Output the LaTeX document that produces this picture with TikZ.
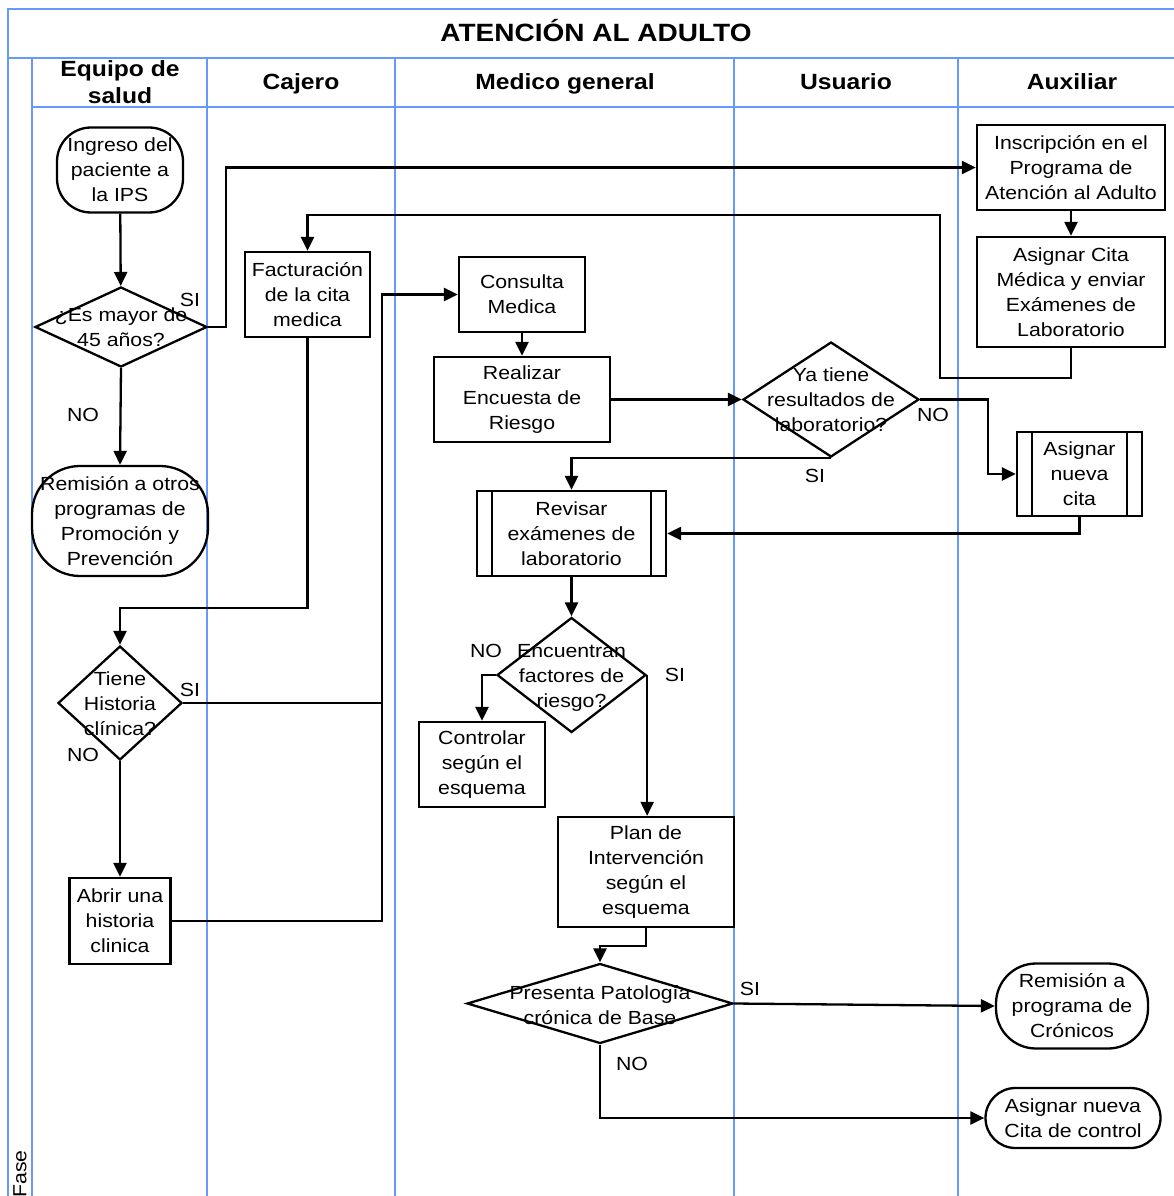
\documentclass[tikz,border=0pt]{standalone}
\usepackage{fontspec}
\setmainfont{Liberation Sans}[FakeStretch=1.12]
\usetikzlibrary{arrows.meta,shapes.geometric}
\definecolor{lanecol}{RGB}{102,153,255}
\newcommand\bodyfont{\fontsize{19}{25}\selectfont}
\newcommand\headfont{\fontsize{22}{27}\selectfont\bfseries}
\newcommand\titlefont{\fontsize{25}{30}\selectfont\bfseries}

\begin{document}
\begin{tikzpicture}[x=1pt,y=-1pt,
  laneline/.style={draw=lanecol, line width=2.8pt},
  proc/.style={draw, line width=2.3pt, rectangle, inner sep=0pt, align=center, font=\bodyfont},
  term/.style={proc, rounded corners=#1},
  term/.default=32pt,
  predef/.style={proc, path picture={
      \draw[line width=2.3pt]
        ([xshift=15pt]path picture bounding box.north west) -- ([xshift=15pt]path picture bounding box.south west)
        ([xshift=-15pt]path picture bounding box.north east) -- ([xshift=-15pt]path picture bounding box.south east);}},
  dia/.style={draw, line width=2.3pt, diamond, inner sep=0pt},
  txt/.style={align=center, font=\bodyfont, inner sep=0pt},
  lbl/.style={font=\bodyfont, inner sep=0pt},
  hdr/.style={align=center, font=\headfont, inner sep=0pt},
  link/.style={line width=2.3pt},
  arr/.style={line width=2.3pt, -{Triangle[length=14pt,width=13pt]}}
]
% page
\useasboundingbox (0,0) rectangle (1173,1196);
\fill[white] (0,0) rectangle (1173,1196);

% swimlane frame
\draw[laneline] (8,1200) -- (8,9) -- (1180,9);
\draw[laneline] (8,58) -- (1180,58);
\draw[laneline] (32,107) -- (1180,107);
\foreach \lx in {32,207,395,734,958}
  \draw[laneline] (\lx,58) -- (\lx,1200);

% titles
\node[font=\titlefont, inner sep=0pt, anchor=base] (title) at (596,42) {ATENCIÓN AL ADULTO};
\node[hdr] (h1) at (120,82) {Equipo de\\salud};
\node[hdr, anchor=base] (h2) at (301,90) {Cajero};
\node[hdr, anchor=base] (h3) at (565,90) {Medico general};
\node[hdr, anchor=base] (h4) at (846,90) {Usuario};
\node[hdr, anchor=base] (h5) at (1072,90) {Auxiliar};
\node[font=\bodyfont, rotate=90, anchor=west, inner sep=0pt] (fase) at (20,1198) {Fase};

% Equipo de salud
\node[term=34pt, minimum width=126pt, minimum height=85pt] (ing) at (120,170) {Ingreso del\\paciente a\\la IPS};
\node[dia, minimum width=172pt, minimum height=80pt] (d1) at (121,327) {};
\node[txt] (d1t) at (d1) {¿Es mayor de\\45 años?};
\node[term=48pt, minimum width=176pt, minimum height=110pt] (rem1) at (120,521) {Remisión a otros\\programas de\\Promoción y\\Prevención};
\node[dia, minimum width=124pt, minimum height=114pt] (d2) at (120,703) {};
\node[txt] (d2t) at ([yshift=-1pt]d2.center) {Tiene\\Historia\\clínica?};
\node[proc, minimum width=101pt, minimum height=86pt] (abr) at (120,921) {Abrir una\\historia\\clinica};

% Cajero
\node[proc, minimum width=125pt, minimum height=85pt] (fac) at (307.5,294.5) {Facturación\\de la cita\\medica};

% Medico general
\node[proc, minimum width=126pt, minimum height=75pt] (con) at (522,294.5) {Consulta\\Medica};
\node[proc, minimum width=176pt, minimum height=85pt] (enc) at (522,399.5) {Realizar\\Encuesta de\\Riesgo};
\node[predef, minimum width=189pt, minimum height=85pt] (rev) at (571.5,533.5) {Revisar\\exámenes de\\laboratorio};
\node[dia, minimum width=149pt, minimum height=115pt] (d4) at (571.5,675) {};
\node[txt] (d4t) at ([yshift=-3pt]d4.center) {Encuentran\\factores de\\riesgo?};
\node[proc, minimum width=126pt, minimum height=85pt] (ctl) at (482,764.5) {Controlar\\según el\\esquema};
\node[proc, minimum width=176pt, minimum height=110pt] (plan) at (646,872) {Plan de\\Intervención\\según el\\esquema};
\node[dia, minimum width=266pt, minimum height=80pt] (d5) at (600,1003.5) {};
\node[txt] (d5t) at ([yshift=-1.5pt]d5.center) {Presenta Patología\\crónica de Base};

% Usuario
\node[dia, minimum width=176pt, minimum height=115pt] (d3) at (831,399.5) {};
\node[txt] (d3t) at (d3) {Ya tiene\\resultados de\\laboratorio?};

% Auxiliar
\node[proc, minimum width=188pt, minimum height=85pt] (ins) at (1071,167.5) {Inscripción en el\\Programa de\\Atención al Adulto};
\node[proc, minimum width=188pt, minimum height=110pt] (cit) at (1071,292) {Asignar Cita\\Médica y enviar\\Exámenes de\\Laboratorio};
\node[predef, minimum width=125pt, minimum height=84pt] (nue) at (1079.5,474) {Asignar\\nueva\\cita};
\node[term=40pt, minimum width=152pt, minimum height=85pt] (cro) at (1072,1006) {Remisión a\\programa de\\Crónicos};
\node[term=30pt, minimum width=175pt, minimum height=60pt] (ctr) at (1073,1118) {Asignar nueva\\Cita de control};

% bend points
\coordinate (cfac) at (940,215);
\coordinate (ccon) at (382,294.5);
\coordinate (chis) at (120,608);

% flow
\draw[arr] (ing) -- (d1);
\draw[arr] (d1.south) -- (rem1.north);
\draw[arr] (d1.east) -- ++(18,0) |- (ins.west);
\draw[arr] (ins) -- (cit);
\draw[arr] (cit.south) -- ++(0,30) -| (cfac) -| (fac.north);
\draw[arr] (fac.south) |- (chis) -- (d2.north);
\draw[link] (d2.east) -- (d2.east -| ccon);
\draw[arr] (d2.south) -- (abr.north);
\draw[arr] (abr.east) -| (ccon) -- (con.west);
\draw[arr] (con) -- (enc);
\draw[arr] (enc.east) -- (d3.west);
\draw[arr] (d3.east) -- ++(68,0) |- (nue.west);
\draw[arr] (d3.south) -| (rev.north);
\draw[arr] (nue.south) |- (rev.east);
\draw[arr] (rev) -- (d4);
\draw[arr] (d4.west) -| (ctl.north);
\draw[arr] (d4.east) -- (d4.east |- plan.north);
\draw[arr] (plan.south) -- ++(0,18) -| (d5.north);
\draw[arr] (d5.east) -- (cro.west);
\draw[arr] (d5.south) |- (ctr.west);

% branch labels
\node[lbl] (s1) at (190,300) {SI};
\node[lbl] (n1) at (83,415) {NO};
\node[lbl] (s2) at (190,690) {SI};
\node[lbl] (n2) at (83,755) {NO};
\node[lbl] (n3) at (933,415) {NO};
\node[lbl] (s3) at (815,476) {SI};
\node[lbl] (n4) at (486,651) {NO};
\node[lbl] (s4) at (675,675) {SI};
\node[lbl] (s5) at (750,989) {SI};
\node[lbl] (n5) at (632,1064) {NO};
\end{tikzpicture}
\end{document}
